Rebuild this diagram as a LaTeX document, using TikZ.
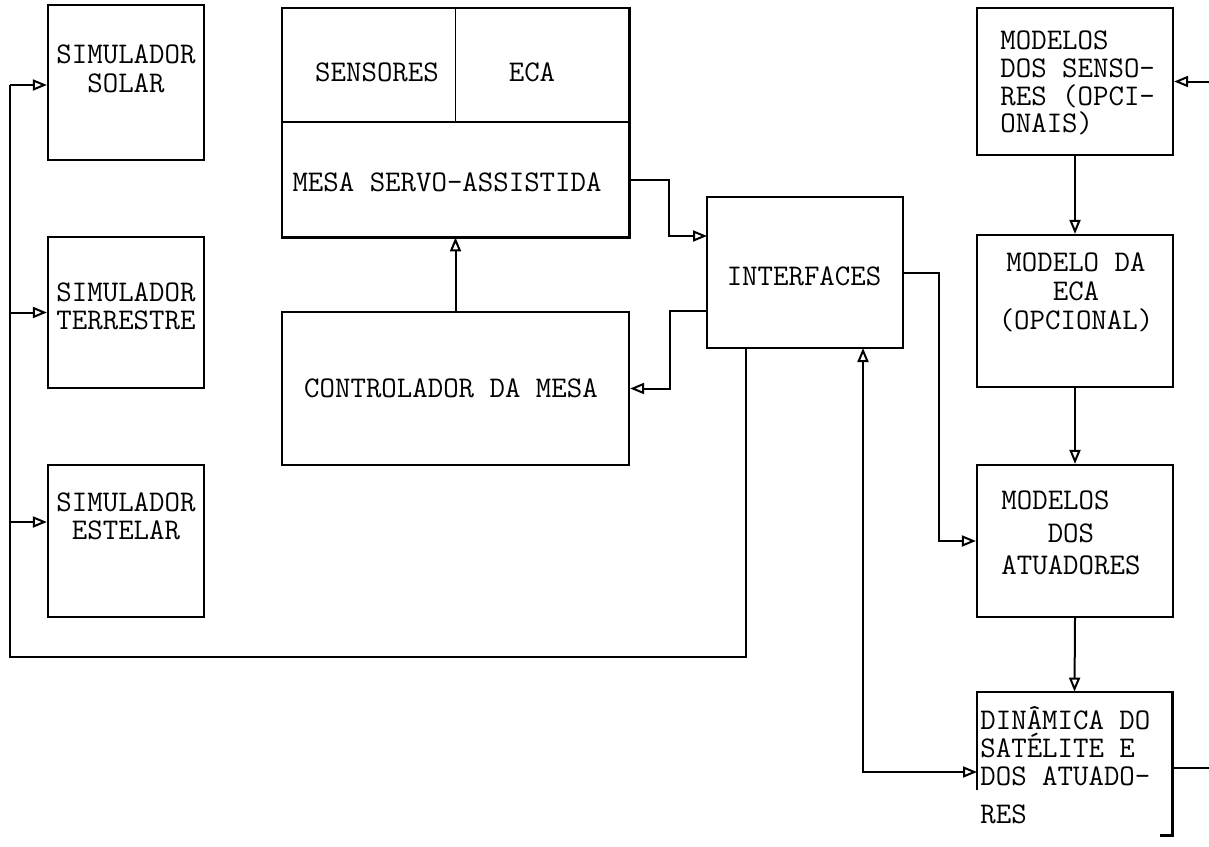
\documentclass[tikz,border=0pt]{standalone}
\usepackage{fontspec}
\usetikzlibrary{arrows.meta,fit,calc}
\begin{document}
\begin{tikzpicture}[x=0.5pt,y=-0.5pt,
  box/.style={draw, line width=1.1pt, inner sep=0pt},
  frame/.style={inner sep=0pt},
  wire/.style={line width=1pt},
  arr/.style={wire, -{Triangle[open,length=7pt,width=5.5pt,line width=1pt]}},
  biarr/.style={wire, {Triangle[open,length=7pt,width=5.5pt,line width=1pt]}-{Triangle[open,length=7pt,width=5.5pt,line width=1pt]}},
  lbl/.style={font=\ttfamily\fontsize{15}{#1}\selectfont, inner sep=0pt},
  lbl/.default=14.5,
]
\useasboundingbox (0,0) rectangle (1209,846);

% simulators (left column)
\node[box, fit={(48,5) (204,160)}] (solar) {};
\node[box, fit={(48,237) (204,388)}] (terr) {};
\node[box, fit={(48,465) (204,617)}] (estel) {};
\node[lbl=14.5, align=center] (tsolar) at (126,69) {SIMULADOR\\SOLAR};
\node[lbl=13.8, align=center] (tterr) at (126,306) {SIMULADOR\\TERRESTRE};
\node[lbl=13.8, align=center] (testel) at (126,516) {SIMULADOR\\ESTELAR};

% servo table carrying the sensors and the attitude control electronics
\node[frame, fit={(282,8) (455,122)}] (sens) {};
\node[frame, fit={(455,8) (629,122)}] (eca) {};
\node[frame, fit={(282,122) (629,237)}] (mesa) {};
\draw[line width=1.1pt] (sens.north west) rectangle (mesa.south east);
\draw[line width=1.1pt] (mesa.north west) -- (mesa.north east);
\draw[line width=0.7pt] (sens.north east) -- (sens.south east);
\node[lbl] (tsens) at (377,72) {SENSORES};
\node[lbl] (teca) at (532,72) {ECA};
\node[lbl] (tmesa) at (447,182) {MESA SERVO-ASSISTIDA};

\node[box, fit={(282,312) (629,465)}] (ctrl) {};
\node[lbl] (tctrl) at (451,388) {CONTROLADOR DA MESA};

\node[box, fit={(707,197) (903,348)}] (ifc) {};
\node[lbl] (tifc) at (804,276) {INTERFACES};

% software models (right column)
\node[box, fit={(977,8) (1173,155)}] (msens) {};
\node[box, fit={(977,235) (1173,387)}] (meca) {};
\node[box, fit={(977,465) (1173,617)}] (matu) {};
\node[frame, fit={(977,692) (1172,835)}] (din) {};
\draw[line width=1.1pt] ($(din.south west)+(0,-45)$) -- (din.north west) -- (din.north east)
  -- (din.south east) -- ++(-12,0);

\node[lbl=13.9, align=left, anchor=west] (tmsens) at (1000,83)
  {MODELOS\\DOS SENSO-\\RES (OPCI-\\ONAIS)};
\node[lbl=14.5, align=center] (tmeca) at (1076,292) {MODELO DA\\ECA\\(OPCIONAL)};
\node[lbl=16.25, align=left, anchor=west] (tmatu) at (1001,533)
  {MODELOS\\\phantom{XXX}DOS\\ATUADORES};
\node[lbl=14, align=left, anchor=west] (tdin) at (980,765)
  {DIN\^AMICA DO\\SAT\'ELITE E\\DOS ATUADO-\\[5pt]RES};

% auxiliary points
\coordinate (bTop) at (10,85);
\coordinate (bBot) at (10,657);
\coordinate (edgeR) at (1209,0);
\coordinate (ifcB1) at (746,348);
\coordinate (ifcB2) at (863,348);
\coordinate (ifcIn) at (707,236);
\coordinate (ifcOut) at (707,311);
\coordinate (dinIn) at (977,772);

% bus feeding the simulators
\draw[wire] (ifcB1) |- (bBot) -- (bTop);
\draw[arr] (bTop) -- (bTop -| solar.west);
\draw[arr] (bBot |- terr.west) -- (terr.west);
\draw[arr] ($(bBot |- estel.west)+(0,-19)$) -- ($(estel.west)+(0,-19)$);

% table loop
\draw[arr] (mesa.east) -| ($(ifcIn)+(-38,0)$) -- (ifcIn);
\draw[arr] (ifcOut) -| ($(ctrl.east)+(40,0)$) -- (ctrl.east);
\draw[arr] (ctrl.north) -- (mesa.south);

% model chain
\draw[arr] (ifc.east) -| ($(matu.west)+(-37,0)$) -- (matu.west);
\draw[arr] (msens.south) -- (meca.north);
\draw[arr] (meca.south) -- (matu.north);
\draw[arr] (matu.south) -- (din.north);
\draw[biarr] (ifcB2) |- (dinIn);

% links leaving the right border
\draw[arr] (edgeR |- msens.east) -- (msens.east);
\draw[wire] ($(din.east)+(0,4)$) -- ($(edgeR |- din.east)+(0,4)$);
\end{tikzpicture}
\end{document}
